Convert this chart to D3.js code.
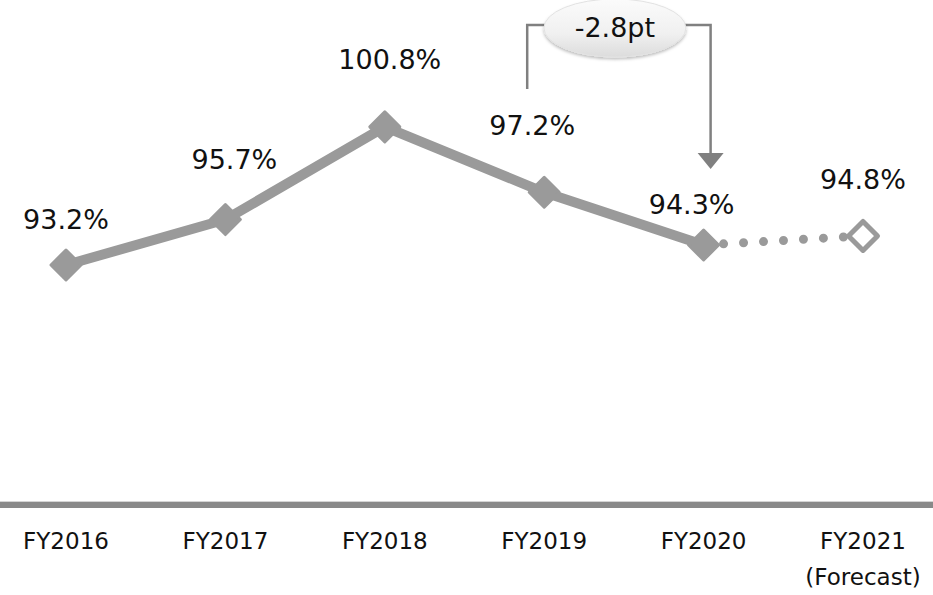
<!DOCTYPE html>
<html>
<head>
<meta charset="utf-8">
<script src="https://cdn.jsdelivr.net/npm/d3@7"></script>
<style>
  body { margin: 0; background: #fff; }
  svg { display: block; font-family: 'DejaVu Sans', Verdana, sans-serif; }
</style>
</head>
<body>
<svg id="chart" width="933" height="595"></svg>
<script>
const years = ['FY2016', 'FY2017', 'FY2018', 'FY2019', 'FY2020', 'FY2021'];
const subLabels = ['', '', '', '', '', '(Forecast)'];
const ratios = [93.2, 95.7, 100.8, 97.2, 94.3, 94.8];
const forecast = [false, false, false, false, false, true];
const changeText = '-2.8pt';

// label nudges
const labelDx = [0, 9, 5, -12, -12, 0];
const labelDy = [-36, -51, -58, -57, -31, -47];

const width = 933, height = 595;
const svg = d3.select('#chart');

const x = d3.scalePoint().domain(years).range([66, 863]);
const y = d3.scaleLinear().domain([80, 107.5]).range([505, 5]);

const data = years.map((d, i) => ({ year: d, value: ratios[i], forecast: forecast[i], i: i }));
const actual = data.filter((d) => !d.forecast);
const lastActual = actual[actual.length - 1];
const projected = [lastActual].concat(data.filter((d) => d.forecast));

const defs = svg.append('defs');
const grad = defs.append('linearGradient').attr('id', 'bubble').attr('x1', 0).attr('y1', 0).attr('x2', 0).attr('y2', 1);
grad.append('stop').attr('offset', '0%').attr('stop-color', '#fbfbfb');
grad.append('stop').attr('offset', '60%').attr('stop-color', '#f0f0f0');
grad.append('stop').attr('offset', '100%').attr('stop-color', '#dcdcdc');
defs.append('filter').attr('id', 'shadow').attr('x', '-20%').attr('y', '-20%').attr('width', '140%').attr('height', '160%')
  .append('feDropShadow').attr('dx', 0).attr('dy', 2).attr('stdDeviation', 1.5).attr('flood-color', '#000').attr('flood-opacity', 0.25);

// baseline
svg.append('line')
  .attr('x1', 0).attr('x2', width)
  .attr('y1', y(80) - 3.5).attr('y2', y(80) - 3.5)
  .attr('stroke', '#d4d4d4').attr('stroke-width', 1);
svg.append('line')
  .attr('x1', 0).attr('x2', width)
  .attr('y1', y(80)).attr('y2', y(80))
  .attr('stroke', '#898989').attr('stroke-width', 6);

// x labels
const xl = svg.append('g').attr('font-size', 23).attr('fill', '#111').attr('text-anchor', 'middle');
xl.selectAll('text.yr')
  .data(years)
  .join('text')
  .attr('class', 'yr')
  .attr('x', (d) => x(d))
  .attr('y', 549)
  .text((d) => d);
xl.selectAll('text.sub')
  .data(years.filter((d, i) => subLabels[i]))
  .join('text')
  .attr('class', 'sub')
  .attr('x', (d) => x(d))
  .attr('y', 585)
  .text((d) => subLabels[years.indexOf(d)]);

const line = d3.line().x((d) => x(d.year)).y((d) => y(d.value));

// forecast dots
svg.append('path')
  .datum(projected)
  .attr('d', line)
  .attr('fill', 'none')
  .attr('stroke', '#9a9a9a')
  .attr('stroke-width', 9)
  .attr('stroke-linecap', 'round')
  .attr('stroke-dasharray', '0 20');

// actual line
svg.append('path')
  .datum(actual)
  .attr('d', line)
  .attr('fill', 'none')
  .attr('stroke', '#9a9a9a')
  .attr('stroke-width', 10)
  .attr('stroke-linejoin', 'round');

// markers
const diamond = (r) => `M0,${-r}L${r},0L0,${r}L${-r},0Z`;
svg.selectAll('path.marker')
  .data(data)
  .join('path')
  .attr('class', 'marker')
  .attr('transform', (d) => `translate(${x(d.year)},${y(d.value)})`)
  .attr('d', (d) => (d.forecast ? diamond(14.5) : diamond(15)))
  .attr('fill', (d) => (d.forecast ? '#fff' : '#9a9a9a'))
  .attr('stroke', '#9a9a9a')
  .attr('stroke-width', (d) => (d.forecast ? 5 : 3))
  .attr('stroke-linejoin', 'round');

// value labels
svg.selectAll('text.val')
  .data(data)
  .join('text')
  .attr('class', 'val')
  .attr('x', (d) => x(d.year) + labelDx[d.i])
  .attr('y', (d) => y(d.value) + labelDy[d.i])
  .attr('text-anchor', 'middle')
  .attr('font-size', 27)
  .attr('fill', '#111')
  .text((d) => d.value.toFixed(1) + '%');

// change callout FY2019 -> FY2020
const fromX = x('FY2019') - 17;
const toX = x('FY2020') + 7;
const topY = 25;
const cx = (x('FY2019') + x('FY2020')) / 2 - 9;
const g = svg.append('g');
g.append('path')
  .attr('d', `M${fromX},89V${topY}H${cx}M${cx},${topY}H${toX}V154`)
  .attr('fill', 'none')
  .attr('stroke', '#808080')
  .attr('stroke-width', 2.5);
g.append('path')
  .attr('d', `M${toX - 13},153L${toX + 13},153L${toX},169Z`)
  .attr('fill', '#808080');
g.append('ellipse')
  .attr('cx', cx).attr('cy', 28)
  .attr('rx', 71).attr('ry', 29)
  .attr('fill', 'url(#bubble)')
  .attr('stroke', '#e2e2e2')
  .attr('stroke-width', 1)
  .attr('filter', 'url(#shadow)');
g.append('text')
  .attr('x', cx).attr('y', 37)
  .attr('text-anchor', 'middle')
  .attr('font-size', 27)
  .attr('fill', '#111')
  .text(changeText);
</script>
</body>
</html>
